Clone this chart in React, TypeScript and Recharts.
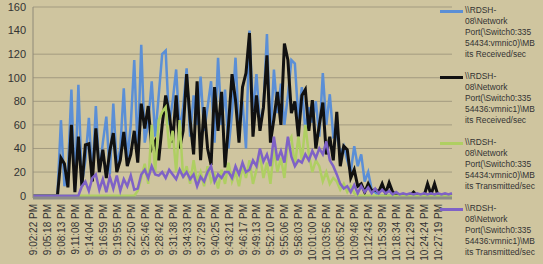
import React from 'react';
import { LineChart, Line, XAxis, YAxis, CartesianGrid } from 'recharts';

// tick labels, one every 4 samples
const tickLabels = [
  '9:02:22 PM', '9:05:18 PM', '9:08:13 PM', '9:11:08 PM', '9:14:04 PM', '9:16:59 PM',
  '9:19:55 PM', '9:22:50 PM', '9:25:46 PM', '9:28:42 PM', '9:31:38 PM', '9:34:33 PM',
  '9:37:29 PM', '9:40:25 PM', '9:43:21 PM', '9:46:17 PM', '9:49:13 PM', '9:52:10 PM',
  '9:55:06 PM', '9:58:03 PM', '10:01:00 PM', '10:03:56 PM', '10:06:52 PM', '10:09:48 PM',
  '10:12:43 PM', '10:15:39 PM', '10:18:34 PM', '10:21:29 PM', '10:24:24 PM', '10:27:19 PM',
];

const yTicks = [0, 20, 40, 60, 80, 100, 120, 140, 160];

// vmnic0 received
const rx0 = [
  0, 0, 0, 0, 0, 0, 0, 0, 64, 8,
  20, 90, 5, 94, 10, 30, 66, 15, 76, 20,
  45, 67, 18, 78, 25, 40, 91, 30, 60, 115,
  35, 128, 45, 62, 97, 50, 85, 120, 123, 60,
  80, 107, 55, 75, 108, 50, 85, 60, 101, 55,
  75, 97, 45, 117, 60, 90, 40, 70, 117, 55,
  80, 40, 140, 70, 103, 60, 75, 137, 50, 107,
  70, 95, 60, 85, 115, 112, 65, 92, 55, 75,
  62, 80, 50, 104, 60, 86, 50, 52, 35, 42,
  30, 20, 42, 25, 35, 12, 20, 5, 3, 0,
  0, 0, 0, 0, 0, 0, 0, 0, 0, 0,
  0, 0, 0, 0, 0, 0, 0, 0, 0, 0,
  0,
];

// vmnic1 received
const rx1 = [
  0, 0, 0, 0, 0, 0, 0, 0, 32, 27,
  7, 60, 3, 50, 8, 43, 44, 12, 57, 20,
  39, 15, 38, 53, 20, 30, 54, 25, 35, 55,
  28, 78, 57, 76, 40, 46, 30, 60, 85, 70,
  45, 85, 40, 55, 103, 64, 35, 97, 30, 75,
  40, 26, 92, 55, 88, 24, 60, 103, 81, 45,
  92, 104, 138, 50, 85, 55, 75, 119, 45, 65,
  88, 60, 129, 115, 70, 80, 50, 85, 90, 55,
  81, 40, 60, 79, 35, 50, 30, 71, 25, 42,
  39, 15, 22, 8, 10, 3, 10, 4, 5, 3,
  10, 2, 11, 3, 1, 0, 0, 0, 0, 3,
  0, 0, 0, 10, 1, 10, 0, 0, 0, 0,
  0,
];

// vmnic0 transmitted
const tx0 = [
  0, 0, 0, 0, 0, 0, 0, 0, 0, 0,
  0, 0, 0, 0, 0, 0, 0, 0, 0, 0,
  0, 0, 0, 0, 0, 0, 0, 0, 0, 0,
  4, 15, 27, 10, 60, 20, 64, 71, 75, 40,
  55, 20, 64, 15, 25, 10, 30, 12, 20, 8,
  25, 12, 18, 6, 22, 10, 28, 12, 20, 8,
  25, 15, 30, 10, 22, 35, 15, 28, 10, 40,
  20, 32, 15, 45, 50, 25, 50, 30, 60, 35,
  20, 30, 25, 12, 20, 10, 15, 12, 5, 10,
  3, 8, 2, 0, 0, 0, 0, 0, 0, 0,
  0, 0, 0, 0, 0, 0, 0, 0, 0, 0,
  0, 0, 0, 0, 0, 0, 0, 0, 0, 0,
  0,
];

// vmnic1 transmitted
const tx1 = [
  0, 0, 0, 0, 0, 0, 0, 0, 0, 0,
  0, 0, 0, 0, 8, 12, 4, 15, 18, 5,
  14, 3, 16, 6, 17, 4, 14, 8, 17, 5,
  6, 18, 22, 15, 25, 18, 17, 20, 15, 22,
  18, 14, 22, 16, 20, 14, 18, 8, 16, 12,
  20, 25, 12, 18, 15, 20, 20, 15, 25, 18,
  28, 20, 22, 30, 25, 40, 29, 35, 25, 50,
  30, 38, 28, 50, 33, 25, 30, 28, 35, 30,
  38, 32, 40, 35, 46, 30, 25, 18, 10, 6,
  8, 3, 9, 2, 8, 3, 7, 2, 6, 2,
  5, 2, 4, 1, 3, 1, 2, 1, 2, 1,
  2, 1, 2, 1, 2, 1, 2, 1, 2, 1,
  2,
];

const series = [
  {
    key: 'rx0',
    color: '#5b8fd6',
    width: 2.5,
    lines: ['\\\\RDSH-', '08\\Network', 'Port(\\Switch0:335', '54434:vmnic0)\\MB', 'its Received/sec'],
  },
  {
    key: 'rx1',
    color: '#111111',
    width: 3,
    lines: ['\\\\RDSH-', '08\\Network', 'Port(\\Switch0:335', '54436:vmnic1)\\MB', 'its Received/sec'],
  },
  {
    key: 'tx0',
    color: '#afcf62',
    width: 2.5,
    lines: ['\\\\RDSH-', '08\\Network', 'Port(\\Switch0:335', '54434:vmnic0)\\MB', 'its Transmitted/sec'],
  },
  {
    key: 'tx1',
    color: '#7f62c6',
    width: 2.5,
    lines: ['\\\\RDSH-', '08\\Network', 'Port(\\Switch0:335', '54436:vmnic1)\\MB', 'its Transmitted/sec'],
  },
];

const data = rx0.map((v, i) => ({ i, rx0: v, rx1: rx1[i], tx0: tx0[i], tx1: tx1[i] }));
const xTicks = tickLabels.map((_, k) => k * 4);

function TimeTick(props: any) {
  const { x, y, payload } = props;
  const label = tickLabels[payload.value / 4];
  return (
    <text
      x={x}
      y={y}
      dy={4}
      transform={`rotate(-90, ${x}, ${y})`}
      textAnchor="end"
      fontSize={10}
      fontFamily="Liberation Sans, Arial, sans-serif"
      fill="#333"
    >
      {label}
    </text>
  );
}

export default function App() {
  return (
    <div
      style={{
        position: 'absolute',
        left: 0,
        top: 0,
        width: 543,
        height: 264,
        background: '#cfc59f',
        fontFamily: 'Liberation Sans, Arial, sans-serif',
      }}
    >
      <LineChart width={543} height={264} data={data} margin={{ top: 7, right: 91, bottom: 0, left: 0 }}>
        <CartesianGrid vertical={false} stroke="#a39b80" />
        <YAxis
          width={33}
          domain={[-2, 160]}
          ticks={yTicks}
          tickLine={false}
          tickSize={5}
          axisLine={{ stroke: '#8f8a78' }}
          tick={{ fontSize: 11, fill: '#333' }}
        />
        <XAxis
          type="number"
          dataKey="i"
          domain={[0, 120]}
          ticks={xTicks}
          interval={0}
          height={66}
          tickLine={false}
          tickSize={4}
          axisLine={{ stroke: '#8c8c88', strokeWidth: 3 }}
          tick={<TimeTick />}
        />
        {series.map((s) => (
          <Line
            key={s.key}
            type="linear"
            dataKey={s.key}
            stroke={s.color}
            strokeWidth={s.width}
            dot={false}
            isAnimationActive={false}
          />
        ))}
      </LineChart>
      <div style={{ position: 'absolute', left: 440, top: 5, width: 103 }}>
        {series.map((s) => (
          <div key={s.key} style={{ position: 'relative', height: 66 }}>
            <div
              style={{
                position: 'absolute',
                left: 0,
                top: 4.5,
                width: 23,
                height: 3,
                background: s.color,
              }}
            />
            <div
              style={{
                position: 'absolute',
                left: 25,
                top: 0,
                fontSize: 8.4,
                lineHeight: '11px',
                color: '#333',
                whiteSpace: 'pre',
              }}
            >
              {s.lines.map((l, j) => (
                <div key={j}>{l}</div>
              ))}
            </div>
          </div>
        ))}
      </div>
    </div>
  );
}
